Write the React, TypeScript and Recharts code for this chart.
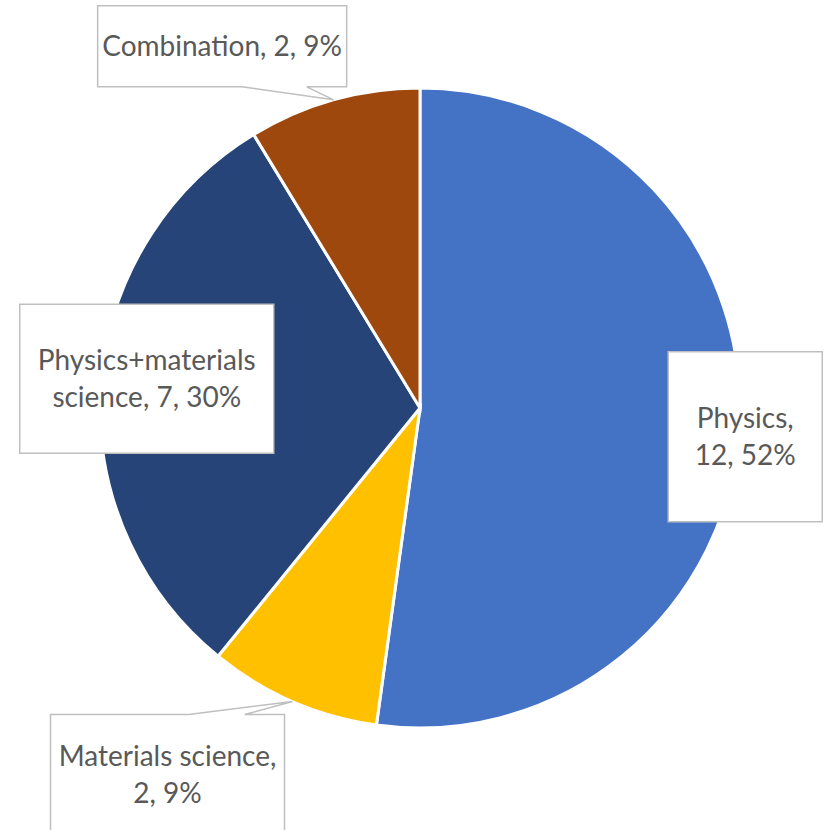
import React from 'react';
import { PieChart, Pie, Cell } from 'recharts';

const categories = ['Physics', 'Materials science', 'Physics+materials science', 'Combination'];
const counts = [12, 2, 7, 2];
const colors = ['#4472C4', '#FFC000', '#264478', '#9E480E'];

// callout box placement relative to the label anchor on the pie edge
const labelBoxes = [
  { dx: -71, dy: -78, w: 154, h: 170, breakAt: 1 },
  { dx: -242, dy: 13, w: 234, h: 120, breakAt: 2 },
  { dx: -81, dy: -82, w: 254, h: 149, breakAt: 1 },
  { dx: -236, dy: -94, w: 249, h: 81, breakAt: 0 },
];

const data = categories.map((name, i) => ({ name, value: counts[i] }));

const RADIAN = Math.PI / 180;
const FONT = 28;
const LINE_H = 37;

const calloutPath = (x: number, y: number, w: number, h: number, tx: number, ty: number) => {
  const r = x + w;
  const b = y + h;
  // tip below the box -> pointer on the bottom edge
  if (ty > b) {
    const p1 = x + w * 0.58;
    const p2 = x + w * 0.84;
    return `M${x},${y} H${r} V${b} H${p2} L${tx},${ty} L${p1},${b} H${x} Z`;
  }
  // tip above the box -> pointer on the top edge
  if (ty < y) {
    const p1 = x + w * 0.59;
    const p2 = x + w * 0.83;
    return `M${x},${y} H${p1} L${tx},${ty} L${p2},${y} H${r} V${b} H${x} Z`;
  }
  return `M${x},${y} H${r} V${b} H${x} Z`;
};

const renderLabel = (props: any) => {
  const { cx, cy, midAngle, outerRadius, index, name, value, percent } = props;
  const tx = cx + outerRadius * Math.cos(-midAngle * RADIAN);
  const ty = cy + outerRadius * Math.sin(-midAngle * RADIAN);
  const box = labelBoxes[index];
  const bx = tx + box.dx;
  const by = ty + box.dy;
  const words = `${name}, ${value}, ${Math.round(percent * 100)}%`.split(' ');
  const lines = box.breakAt > 0
    ? [words.slice(0, box.breakAt).join(' '), words.slice(box.breakAt).join(' ')]
    : [words.join(' ')];
  const midX = bx + box.w / 2;
  const midY = by + box.h / 2;
  const firstBase = midY - ((lines.length - 1) * LINE_H) / 2 + FONT * 0.36;
  return (
    <g key={`lbl-${index}`}>
      <path d={calloutPath(bx, by, box.w, box.h, tx, ty)} fill="#fff" stroke="#BFBFBF" strokeWidth={1.5} />
      <text x={midX} textAnchor="middle" fill="#595959" fontSize={FONT} fontFamily="Lato, 'Noto Sans', sans-serif">
        {lines.map((ln, i) => (
          <tspan key={i} x={midX} y={firstBase + i * LINE_H}>{ln}</tspan>
        ))}
      </text>
    </g>
  );
};

const App: React.FC = () => {
  return (
    <div style={{ position: 'absolute', left: 0, top: 0, width: 825, height: 830, background: '#fff' }}>
      <PieChart width={825} height={830} margin={{ top: 0, right: 0, bottom: 0, left: 0 }}>
        <Pie
          data={data}
          dataKey="value"
          nameKey="name"
          cx={420}
          cy={408}
          outerRadius={320}
          startAngle={90}
          endAngle={-270}
          stroke="#fff"
          strokeWidth={3}
          labelLine={false}
          label={renderLabel}
          isAnimationActive={false}
        >
          {data.map((d, i) => (
            <Cell key={d.name} fill={colors[i]} />
          ))}
        </Pie>
      </PieChart>
    </div>
  );
};

export default App;
